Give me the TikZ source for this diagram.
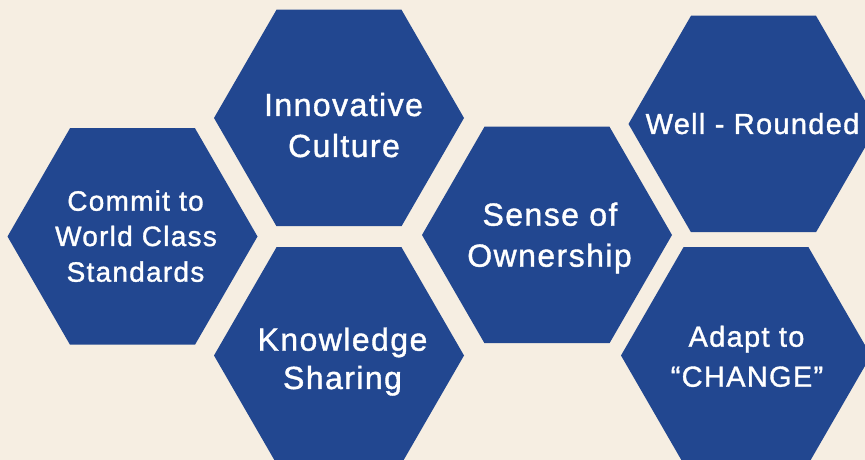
\documentclass[tikz,border=0pt]{standalone}
\usepackage{fontspec}
\setmainfont{Liberation Sans}[LetterSpace=4.5,FakeBold=1.2]
\usetikzlibrary{shapes.geometric}
\definecolor{bg}{HTML}{F6EEE2}
\definecolor{hexblue}{HTML}{224790}
\begin{document}
\begin{tikzpicture}[x=1pt,y=1pt,
  hexa/.style={regular polygon,regular polygon sides=6,minimum size=250pt,inner sep=0pt,outer sep=0pt,fill=hexblue,draw=none},
  lbl/.style={anchor=base,text=white,inner sep=0pt},
  big/.style={lbl,font=\fontsize{32}{38}\selectfont},
  mid/.style={lbl,font=\fontsize{29}{35}\selectfont},
  small/.style={lbl,font=\fontsize{28}{34}\selectfont}]
\fill[bg] (0,0) rectangle (865,460);
\useasboundingbox (0,0) rectangle (865,460);
\begin{scope}
\clip (0,0) rectangle (865,460);
\node[hexa] (h1) at (132.5,223.5) {};
\node[hexa] (h2) at (339,342) {};
\node[hexa] (h3) at (339,104.5) {};
\node[hexa] (h4) at (547,225) {};
\node[hexa] (h5) at (753.5,336) {};
\node[hexa] (h6) at (746,104.5) {};
\end{scope}
\node[small] (t1a) at (135.5,249.3) {Commit to};
\node[small] (t1b) at (136,214) {World Class};
\node[small] (t1c) at (135.5,178.3) {Standards};
\node[big] (t2a) at (343.5,344) {Innovative};
\node[big] (t2b) at (344,303) {Culture};
\node[big] (t3a) at (342.5,109.3) {Knowledge};
\node[big] (t3b) at (342.5,71) {Sharing};
\node[big] (t4a) at (550,234.3) {Sense of};
\node[big] (t4b) at (549.5,193.3) {Ownership};
\node[mid] (t5) at (752.5,326) {Well - Rounded};
\node[mid] (t6a) at (746.5,113.3) {Adapt to};
\node[mid] (t6b) at (747,73.3) {“CHANGE”};
\end{tikzpicture}
\end{document}
